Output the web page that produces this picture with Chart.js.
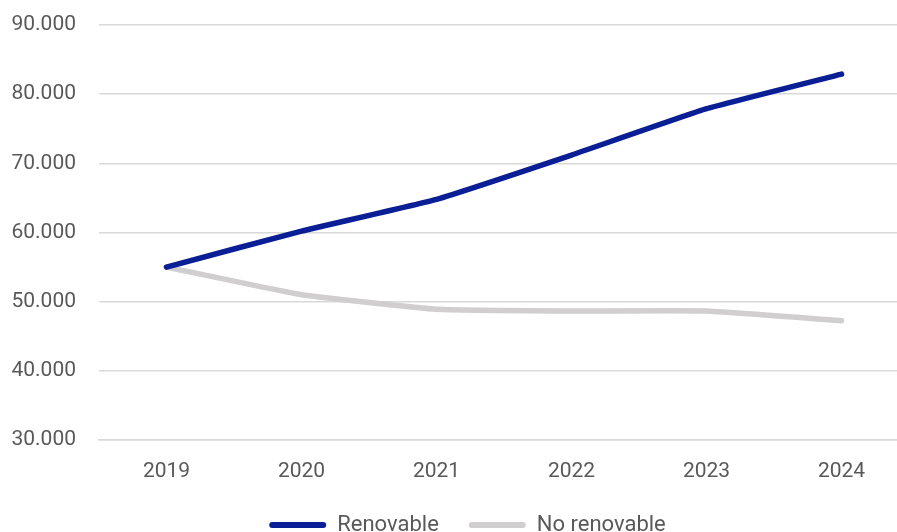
<!DOCTYPE html>
<html>
<head>
<meta charset="utf-8">
<script src="https://cdn.jsdelivr.net/npm/chart.js@4"></script>
<style>
  html, body { margin: 0; padding: 0; overflow: hidden; background: #fff; }
  #wrap { position: absolute; left: 0; top: 0; width: 909px; height: 546px; }
</style>
</head>
<body>
<div id="wrap"><canvas id="energy-chart"></canvas></div>
<script>
const years = ["2019", "2020", "2021", "2022", "2023", "2024"];
const renovable = [55000, 60200, 64800, 71200, 77900, 82900];
const noRenovable = [55000, 51000, 48900, 48650, 48650, 47250];
const yTicks = [30000, 40000, 50000, 60000, 70000, 80000, 90000];

const textColor = "#595959";
const font = { family: "Roboto", size: 21 };

const fmt = (v) => v.toLocaleString("de-DE");

// legend in the original sits a bit right of the page centre
const shiftLegend = {
  id: "shiftLegend",
  afterLayout(chart) {
    chart.legend.left += 13;
    chart.legend.right += 13;
  },
};

const data = {
  labels: years,
  datasets: [
    {
      label: "Renovable",
      data: renovable,
      borderColor: "#0a1f96",
      backgroundColor: "#0a1f96",
      borderWidth: 5.5,
    },
    {
      label: "No renovable",
      data: noRenovable,
      borderColor: "#d0cece",
      backgroundColor: "#d0cece",
      borderWidth: 5.5,
    },
  ],
};

// config
const config = {
  type: "line",
  data: data,
  plugins: [shiftLegend],
  options: {
    responsive: true,
    maintainAspectRatio: false,
    animation: false,
    layout: { padding: { top: 25, left: 0, right: 0, bottom: 0 } },
    elements: {
      point: { radius: 0 },
      line: { tension: 0.1, borderCapStyle: "round", borderJoinStyle: "round" },
    },
    plugins: {
      tooltip: { enabled: false },
      legend: {
        position: "bottom",
        labels: {
          color: textColor,
          font: { family: "Roboto", size: 22 },
          boxWidth: 57,
          boxHeight: 6,
          padding: 30,
          useBorderRadius: true,
          borderRadius: 3,
          generateLabels: (chart) =>
            Chart.defaults.plugins.legend.labels
              .generateLabels(chart)
              .map((l) => ({ ...l, lineWidth: 0 })),
        },
      },
    },
    scales: {
      x: {
        offset: true,
        grid: { display: false },
        border: { display: true, color: "#d9d9d9", width: 1.5 },
        ticks: { color: textColor, font: font, padding: 11 },
        afterFit: (s) => { s.height = 44; },
      },
      y: {
        min: 30000,
        max: 90000,
        afterBuildTicks: (s) => { s.ticks = yTicks.map((v) => ({ value: v })); },
        grid: { color: "#d9d9d9", lineWidth: 1.5, drawTicks: false },
        border: { display: false },
        ticks: { color: textColor, font: font, padding: 23, callback: (v) => fmt(v) },
        afterFit: (s) => {
          s.width = 99;
          s.paddingTop = 0;
          s.paddingBottom = 0;
        },
      },
    },
  },
};

// construct chart
new Chart(document.getElementById("energy-chart"), config);
</script>
</body>
</html>
